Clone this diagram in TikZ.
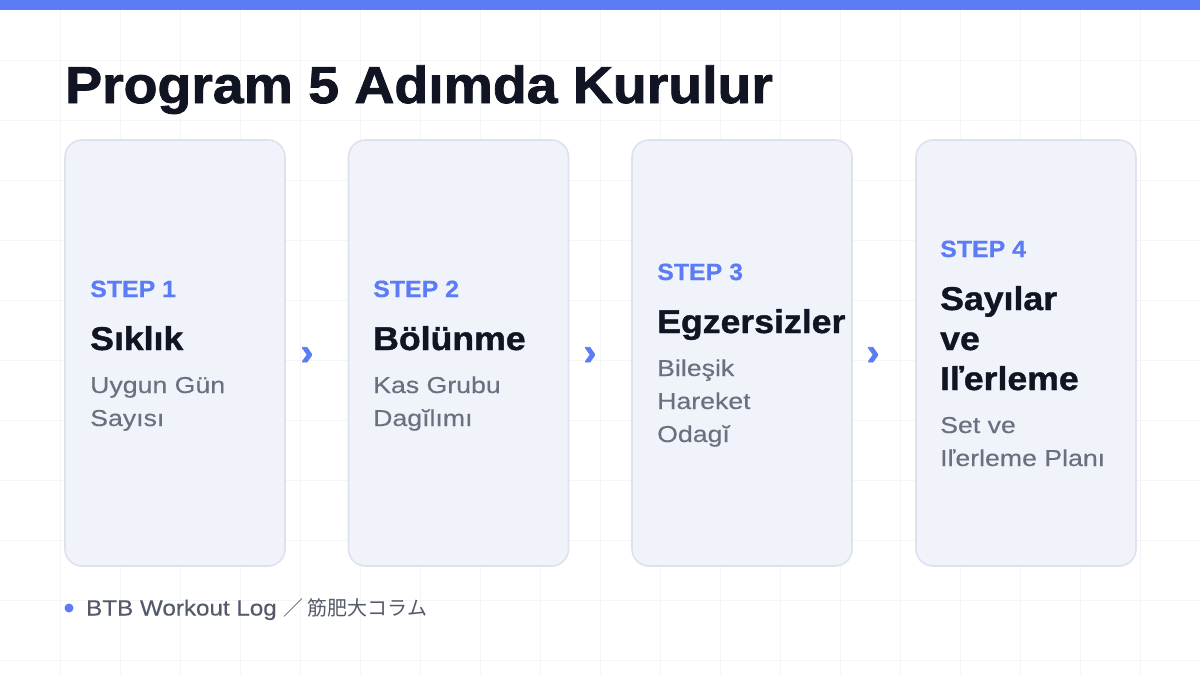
\documentclass[tikz,border=0pt]{standalone}
\usepackage{fontspec}
\setmainfont{Liberation Sans}
\newfontfamily\cjkfont{Noto Sans CJK JP}
\newfontfamily\headfont[FakeStretch=1.065,FakeBold=1.6]{Liberation Sans Bold}
\newfontfamily\stepfont[FakeStretch=1.06,FakeBold=0.6]{Liberation Sans Bold}
\newfontfamily\cardheadfont[FakeStretch=1.08,FakeBold=1.2]{Liberation Sans Bold}
\newfontfamily\subfont[FakeStretch=1.16,FakeBold=0.3]{Liberation Sans}
\newfontfamily\footfont[FakeStretch=1.1,FakeBold=0.3]{Liberation Sans}
\newfontfamily\chevfont[FakeBold=2]{Liberation Sans Bold}
\definecolor{accent}{HTML}{5B7CF5}
\definecolor{ink}{HTML}{111422}
\definecolor{subgray}{HTML}{6B7080}
\definecolor{footgray}{HTML}{555A6A}
\definecolor{cardfill}{HTML}{F1F3FB}
\definecolor{cardline}{HTML}{DEE2EF}
\definecolor{gridline}{HTML}{F4F5F7}
\tikzset{
  card/.style={draw=cardline, line width=1.6pt, fill=cardfill, rounded corners=17pt},
  steplabel/.style={anchor=base west, inner sep=0pt, text=accent, font=\fontsize{23.5}{23.5}\stepfont},
  cardtitle/.style={anchor=base west, inner sep=0pt, text=ink, font=\fontsize{33}{33}\cardheadfont},
  cardsub/.style={anchor=base west, inner sep=0pt, text=subgray, font=\fontsize{23}{23}\subfont},
  chevron/.style={inner sep=0pt, text=accent, font=\fontsize{38}{38}\chevfont},
}
\begin{document}
\begin{tikzpicture}[x=1pt,y=-1pt]
\useasboundingbox (0,0) rectangle (1200,675);
\fill[white] (0,0) rectangle (1200,675);
% grid
\foreach \gx in {60,120,...,1140} \draw[gridline, line width=0.7pt] (\gx,10) -- (\gx,675);
\foreach \gy in {60,120,...,660} \draw[gridline, line width=0.7pt] (0,\gy) -- (1200,\gy);
% top bar
\fill[accent] (0,0) rectangle (1200,10);
% title
\node[anchor=base west, inner sep=0pt, text=ink, font=\fontsize{52}{52}\headfont] (title) at (65,103) {Program 5 Adımda Kurulur};
% cards
\path[card] (65,140) rectangle (285,566) coordinate (c1);
\path[card] (348.5,140) rectangle (568.5,566) coordinate (c2);
\path[card] (632,140) rectangle (852,566) coordinate (c3);
\path[card] (916,140) rectangle (1136,566) coordinate (c4);
% card 1
\node[steplabel] (s1) at (90,297) {STEP 1};
\node[cardtitle] (t1) at (90,350) {Sıklık};
\node[cardsub] (u1a) at (90,393) {Uygun Gün};
\node[cardsub] (u1b) at (90,426) {Sayısı};
% card 2
\node[steplabel] (s2) at (373,297) {STEP 2};
\node[cardtitle] (t2) at (373,350) {Bölünme};
\node[cardsub] (u2a) at (373,393) {Kas Grubu};
\node[cardsub] (u2b) at (373,426) {Dagĭlımı};
% card 3
\node[steplabel] (s3) at (657,280) {STEP 3};
\node[cardtitle] (t3) at (657,333) {Egzersizler};
\node[cardsub] (u3a) at (657,376) {Bileşik};
\node[cardsub] (u3b) at (657,409) {Hareket};
\node[cardsub] (u3c) at (657,442) {Odagĭ};
% card 4
\node[steplabel] (s4) at (940,257) {STEP 4};
\node[cardtitle] (t4a) at (940,310) {Sayılar};
\node[cardtitle] (t4b) at (940,350) {ve};
\node[cardtitle] (t4c) at (940,390) {Iľerleme};
\node[cardsub] (u4a) at (940,433) {Set ve};
\node[cardsub] (u4b) at (940,466) {Iľerleme Planı};
% chevrons
\node[chevron] (a1) at (307,356) {›};
\node[chevron] (a2) at (590,356) {›};
\node[chevron] (a3) at (873,356) {›};
% footer
\fill[accent] (69,608) circle (4.5);
\node[anchor=base west, inner sep=0pt, text=footgray, font=\fontsize{22}{22}\footfont] (foot) at (86,615.5) {BTB Workout Log {\fontsize{20}{20}\cjkfont ／ 筋肥大コラム}};
\end{tikzpicture}
\end{document}
